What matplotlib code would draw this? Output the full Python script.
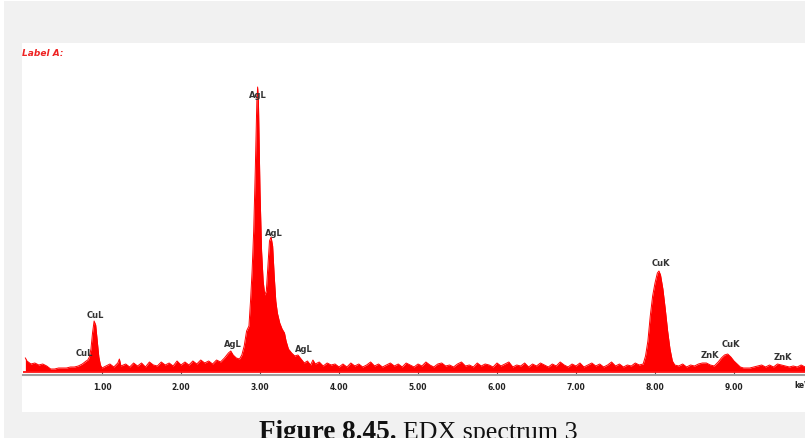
import numpy as np
import matplotlib
matplotlib.use("Agg")
import matplotlib.pyplot as plt
from matplotlib.patches import Rectangle

# EDX spectrum: energy (keV) and counts (arb.)
energy = [
    0.03, 0.05, 0.10, 0.15, 0.20, 0.25, 0.30, 0.35, 0.40, 0.45, 0.50, 0.55,
    0.60, 0.65, 0.70, 0.75, 0.80, 0.82, 0.84, 0.86, 0.88, 0.90, 0.92, 0.94,
    0.96, 0.98, 1.00, 1.05, 1.10, 1.15, 1.20, 1.22, 1.24, 1.30, 1.35, 1.40,
    1.45, 1.50, 1.55, 1.60, 1.65, 1.70, 1.75, 1.80, 1.85, 1.90, 1.95, 2.00,
    2.05, 2.10, 2.15, 2.20, 2.25, 2.30, 2.35, 2.40, 2.45, 2.50, 2.55, 2.60,
    2.63, 2.66, 2.70, 2.74, 2.77, 2.80, 2.83, 2.86, 2.88, 2.90, 2.92, 2.94,
    2.96, 2.97, 2.98, 3.00, 3.02, 3.04, 3.06, 3.08, 3.10, 3.12, 3.14, 3.16,
    3.18, 3.20, 3.22, 3.25, 3.28, 3.31, 3.33, 3.36, 3.40, 3.44, 3.48, 3.52,
    3.56, 3.60, 3.64, 3.67, 3.70, 3.75, 3.80, 3.85, 3.90, 3.95, 4.00, 4.05,
    4.10, 4.15, 4.20, 4.25, 4.30, 4.35, 4.40, 4.45, 4.50, 4.55, 4.60, 4.65,
    4.70, 4.75, 4.80, 4.85, 4.90, 4.95, 5.00, 5.05, 5.10, 5.15, 5.20, 5.25,
    5.30, 5.35, 5.40, 5.45, 5.50, 5.55, 5.60, 5.65, 5.70, 5.75, 5.80, 5.85,
    5.90, 5.95, 6.00, 6.05, 6.10, 6.15, 6.20, 6.25, 6.30, 6.35, 6.40, 6.45,
    6.50, 6.55, 6.60, 6.65, 6.70, 6.75, 6.80, 6.85, 6.90, 6.95, 7.00, 7.05,
    7.10, 7.15, 7.20, 7.25, 7.30, 7.35, 7.40, 7.45, 7.50, 7.55, 7.60, 7.65,
    7.70, 7.75, 7.80, 7.85, 7.88, 7.91, 7.94, 7.97, 8.00, 8.03, 8.05, 8.07,
    8.10, 8.13, 8.16, 8.19, 8.22, 8.25, 8.30, 8.35, 8.40, 8.45, 8.50, 8.55,
    8.60, 8.65, 8.70, 8.75, 8.80, 8.84, 8.88, 8.92, 8.96, 9.00, 9.04, 9.08,
    9.12, 9.20, 9.25, 9.30, 9.35, 9.40, 9.45, 9.50, 9.55, 9.60, 9.65, 9.70,
    9.75, 9.80, 9.85, 9.90,
]
counts = [
    13, 10, 7, 8, 6, 7, 5, 2, 2, 3, 3, 3,
    4, 4, 5, 7, 10, 11, 14, 22, 38, 50, 46, 30,
    14, 6, 3, 5, 7, 4, 8, 12, 5, 7, 4, 8,
    5, 8, 4, 9, 6, 5, 9, 6, 8, 5, 10, 6,
    9, 6, 10, 7, 11, 8, 10, 7, 11, 9, 13, 18,
    20, 16, 13, 12, 16, 25, 40, 45, 70, 100, 140, 200,
    270, 284, 270, 180, 120, 90, 76, 80, 105, 130, 134, 125,
    95, 70, 58, 48, 42, 38, 30, 22, 18, 15, 16, 12,
    8, 10, 6, 11, 7, 9, 5, 8, 6, 7, 4, 7,
    4, 8, 5, 7, 4, 6, 9, 5, 7, 4, 6, 8,
    5, 7, 4, 8, 6, 4, 7, 5, 9, 6, 4, 7,
    8, 5, 6, 4, 7, 9, 5, 6, 4, 8, 5, 7,
    6, 4, 8, 5, 7, 9, 4, 6, 5, 8, 4, 7,
    5, 8, 6, 4, 7, 5, 9, 6, 4, 7, 5, 8,
    4, 6, 8, 5, 7, 4, 6, 9, 5, 7, 4, 6,
    5, 8, 6, 7, 15, 30, 55, 75, 88, 98, 100, 96,
    82, 62, 40, 22, 10, 6, 5, 7, 4, 6, 5, 7,
    8, 8, 6, 5, 9, 13, 16, 17, 14, 10, 7, 4,
    3, 3, 4, 5, 6, 4, 6, 4, 7, 6, 5, 4,
    5, 4, 6, 4,
]

# peak labels: text, energy, height
peak_names = ["AgL", "AgL", "AgL", "AgL", "CuL", "CuL", "CuK", "ZnK", "CuK", "ZnK"]
peak_e = [2.97, 3.18, 2.66, 3.55, 0.92, 0.77, 8.08, 8.70, 8.96, 9.62]
peak_h = [277, 139, 27, 22, 57, 18, 109, 16, 27, 14]

tick_e = [1, 2, 3, 4, 5, 6, 7, 8, 9]
tick_txt = ["1.00", "2.00", "3.00", "4.00", "5.00", "6.00", "7.00", "8.00", "9.00"]

W, H = 805, 439
fig = plt.figure(figsize=(W / 100, H / 100), dpi=100, facecolor="white")
# grey page and white panel behind the spectrum
fig.add_artist(Rectangle((4 / W, 0), 1, 437 / H, transform=fig.transFigure,
                         facecolor="#f1f1f1", edgecolor="none", zorder=-3))
fig.add_artist(Rectangle((22 / W, (H - 413) / H), 1, (413 - 44) / H,
                         transform=fig.transFigure, facecolor="white",
                         edgecolor="none", zorder=-2))

# spectrum axes: 1 count = 1 px, zero at px 372, bottom at px 376
ax = fig.add_axes([23 / W, (H - 376) / H, (W - 23) / W, (376 - 44) / H])
ax.set_facecolor("none")
ax.set_xlim(0, (W - 23) / 79.0)
ax.set_ylim(-4, 328)

ax.fill_between(energy, 0, counts, color="#ff0000", lw=0)
ax.plot(energy, counts, color="#ff0000", lw=0.7)
ax.axhline(-0.5, color="#ff0000", lw=1.2)

for s in ["top", "right", "left"]:
    ax.spines[s].set_visible(False)
ax.spines["bottom"].set_color("#a0a0a0")
ax.spines["bottom"].set_linewidth(1.5)
ax.set_yticks([])
ax.set_xticks(tick_e)
ax.set_xticklabels(tick_txt, fontsize=5.5, fontweight="bold", color="#222222")
ax.tick_params(axis="x", direction="in", length=2, width=0.8, color="#555555", pad=5)
ax.text(9.87, -9.5, "keV", fontsize=5.5, fontweight="bold", color="#222222",
        ha="center", va="top", clip_on=False)

for name, e, h in zip(peak_names, peak_e, peak_h):
    ax.text(e, h, name, fontsize=6, fontweight="bold", color="#333333",
            ha="center", va="center")

fig.text(22 / W, (H - 53) / H, "Label A:", fontsize=6.5, color="#ee2222",
         style="italic", fontweight="bold", ha="left", va="center")

fig.text(259 / W, 0.0, "Figure 8.45.", fontsize=19.5, fontweight="bold",
         family="Liberation Serif", ha="left", va="baseline", color="#111111")
fig.text(403 / W, 0.0, "EDX spectrum 3", fontsize=18.7,
         family="Liberation Serif", ha="left", va="baseline", color="#111111")

fig.savefig("out.png", dpi=100, facecolor=fig.get_facecolor())
